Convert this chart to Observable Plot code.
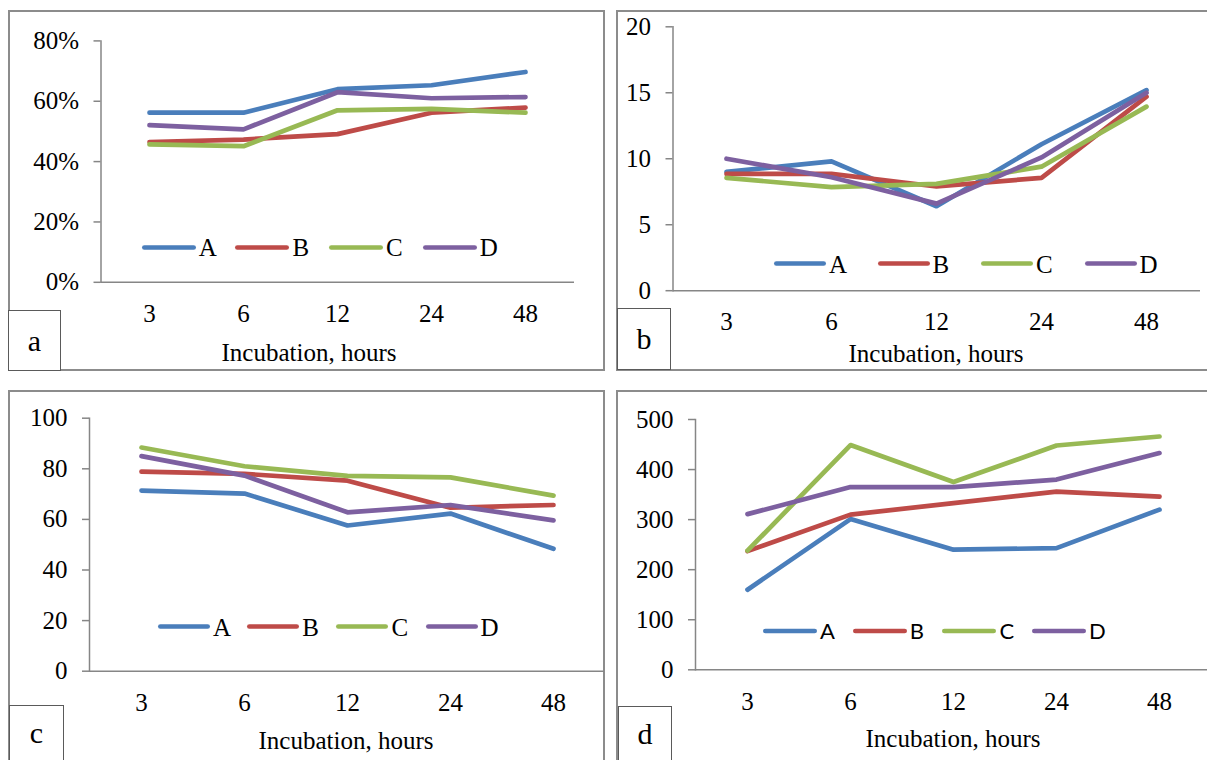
<!DOCTYPE html>
<html>
<head>
<meta charset="utf-8">
<script src="https://cdn.jsdelivr.net/npm/d3@7"></script>
<script src="https://cdn.jsdelivr.net/npm/@observablehq/plot@0.6"></script>
<style>
  html, body { margin: 0; padding: 0; background: #fff; }
  body { width: 1207px; height: 760px; overflow: hidden; position: relative;
         font-family: "Liberation Serif", "Times New Roman", serif; color: #000; }
  .frame { position: absolute; border: 2px solid #8c8c8c; box-sizing: border-box; }
  .box { position: absolute; border: 1px solid #5a5a5a; background: #fff; box-sizing: border-box;
         font-size: 30px; display: flex; align-items: center; justify-content: center; line-height: 1; }
  .title { position: absolute; font-size: 25px; transform: translate(-50%, -50%); white-space: nowrap; line-height: 1; }
  .leg { position: absolute; display: flex; align-items: center; transform: translateY(-50%);
         font-size: 25px; line-height: 1; white-space: nowrap; }
  .leg svg { display: block; }
  svg g[aria-label="y-axis tick"] { stroke: #868686; stroke-width: 1.5; }
</style>
</head>
<body>
<script>
// ---- data ----
const hours = ["3", "6", "12", "24", "48"];
const seriesNames = ["A", "B", "C", "D"];
const colors = ["#4A7EBB", "#BE4B48", "#98B954", "#7D60A0"];

// panel a (percent)
const aA = [56.2, 56.2, 64.0, 65.3, 69.7];
const aB = [46.5, 47.3, 49.1, 56.2, 57.9];
const aC = [45.7, 45.1, 57.0, 57.5, 56.2];
const aD = [52.1, 50.7, 63.0, 61.0, 61.4];
const aTicks = [0, 20, 40, 60, 80];

// panel b
const bA = [9.0, 9.8, 6.4, 11.1, 15.2];
const bB = [8.85, 8.85, 7.9, 8.55, 14.7];
const bC = [8.55, 7.85, 8.1, 9.4, 13.95];
const bD = [10.0, 8.6, 6.6, 10.1, 15.0];
const bTicks = [0, 5, 10, 15, 20];

// panel c
const cA = [71.4, 70.2, 57.6, 62.3, 48.4];
const cB = [78.9, 78.0, 75.3, 64.6, 65.7];
const cC = [88.4, 81.0, 77.2, 76.6, 69.4];
const cD = [85.0, 77.3, 62.8, 65.7, 59.6];
const cTicks = [0, 20, 40, 60, 80, 100];

// panel d
const dA = [160, 301, 240, 243, 320];
const dB = [237, 310, 333, 356, 346];
const dC = [238, 449, 375, 448, 466];
const dD = [311, 365, 365, 380, 433];
const dTicks = [0, 100, 200, 300, 400, 500];

const panelLetters = ["a", "b", "c", "d"];
const xTitle = "Incubation, hours";

// ---- helpers ----
function buildTable(arrs) {
  const rows = [];
  seriesNames.forEach((s, i) => arrs[i].forEach((v, j) => rows.push({hour: hours[j], series: s, value: v})));
  return rows;
}

function addDiv(cls, style, html) {
  const d = document.createElement("div");
  d.className = cls;
  Object.assign(d.style, style);
  if (html !== undefined) d.innerHTML = html;
  document.body.appendChild(d);
  return d;
}

function drawPlot(cfg) {
  const svg = Plot.plot({
    width: cfg.w, height: cfg.h,
    marginLeft: cfg.ml, marginRight: cfg.mr, marginTop: cfg.mt, marginBottom: cfg.mb,
    style: {fontFamily: '"Liberation Serif", "Times New Roman", serif', fontSize: "25px",
            color: "#000", background: "transparent", overflow: "visible"},
    x: {type: "point", domain: hours, padding: 0.5},
    y: {domain: [0, cfg.ticks[cfg.ticks.length - 1]]},
    color: {domain: seriesNames, range: colors},
    marks: [
      Plot.ruleY([0], {stroke: "#868686", strokeWidth: 1.5}),
      Plot.frame({anchor: "left", stroke: "#868686", strokeWidth: 1.5}),
      Plot.axisY(cfg.ticks, {tickSize: 7, tickPadding: 15, tickFormat: cfg.fmt, label: null}),
      Plot.axisX({tickSize: 0, tickPadding: 22, label: null}),
      Plot.lineY(cfg.rows, {x: "hour", y: "value", z: "series", stroke: "series",
        strokeWidth: 4.7, strokeLinecap: "round", strokeLinejoin: "round"})
    ]
  });
  svg.style.position = "absolute";
  svg.style.left = cfg.x + "px";
  svg.style.top = cfg.y + "px";
  document.body.appendChild(svg);
}

function drawLegend(x0, yc, spacing, len, font) {
  seriesNames.forEach((s, i) => {
    const html = `<svg width="${len + 6}" height="10"><line x1="${3 + 2.35}" x2="${3 + len - 2.35}" y1="5" y2="5" stroke="${colors[i]}" stroke-width="4.7" stroke-linecap="round"/></svg><span>${s}</span>`;
    const st = {left: (x0 + i * spacing - 3) + "px", top: yc + "px"};
    if (font) { st.fontFamily = font.family; st.fontSize = font.size; }
    addDiv("leg", st, html);
  });
}

// ---- frames ----
addDiv("frame", {left: "8px", top: "10px", width: "597px", height: "361px"});
addDiv("frame", {left: "616px", top: "10px", width: "700px", height: "361px"});
addDiv("frame", {left: "8px", top: "390px", width: "597px", height: "420px"});
addDiv("frame", {left: "616px", top: "390px", width: "700px", height: "420px"});

// ---- plots ----
drawPlot({x: 0, y: 0, w: 604, h: 372, ml: 100.5, mr: 30, mt: 40.4, mb: 90.2,
  ticks: aTicks, fmt: d => d + "%", rows: buildTable([aA, aB, aC, aD])});
drawPlot({x: 604, y: 0, w: 603, h: 372, ml: 68.5, mr: 7, mt: 26.3, mb: 81.8,
  ticks: bTicks, fmt: d => String(d), rows: buildTable([bA, bB, bC, bD])});
drawPlot({x: 0, y: 380, w: 604, h: 380, ml: 89, mr: 0, mt: 37.7, mb: 89.3,
  ticks: cTicks, fmt: d => String(d), rows: buildTable([cA, cB, cC, cD])});
drawPlot({x: 604, y: 380, w: 620, h: 380, ml: 91, mr: 13, mt: 39, mb: 90.7,
  ticks: dTicks, fmt: d => String(d), rows: buildTable([dA, dB, dC, dD])});

// ---- legends ----
drawLegend(141.7, 247, 93.7, 54, null);
drawLegend(774, 263.6, 103.5, 52, null);
drawLegend(158, 626.7, 89.2, 52, null);
drawLegend(763, 630.7, 89.7, 54, {family: "Lato, 'Liberation Sans', sans-serif", size: "22px"});

// ---- axis titles ----
addDiv("title", {left: "309px", top: "352px"}, xTitle);
addDiv("title", {left: "936px", top: "353px"}, xTitle);
addDiv("title", {left: "346px", top: "740px"}, xTitle);
addDiv("title", {left: "953px", top: "738px"}, xTitle);

// ---- panel letter boxes ----
addDiv("box", {left: "8px", top: "310px", width: "53px", height: "61px"}, panelLetters[0]);
addDiv("box", {left: "617px", top: "308px", width: "54px", height: "62px"}, panelLetters[1]);
addDiv("box", {left: "9px", top: "705px", width: "55px", height: "70px", alignItems: "flex-start", paddingTop: "12px"}, panelLetters[2]);
addDiv("box", {left: "618px", top: "706px", width: "54px", height: "70px", alignItems: "flex-start", paddingTop: "12px"}, panelLetters[3]);
</script>
</body>
</html>
